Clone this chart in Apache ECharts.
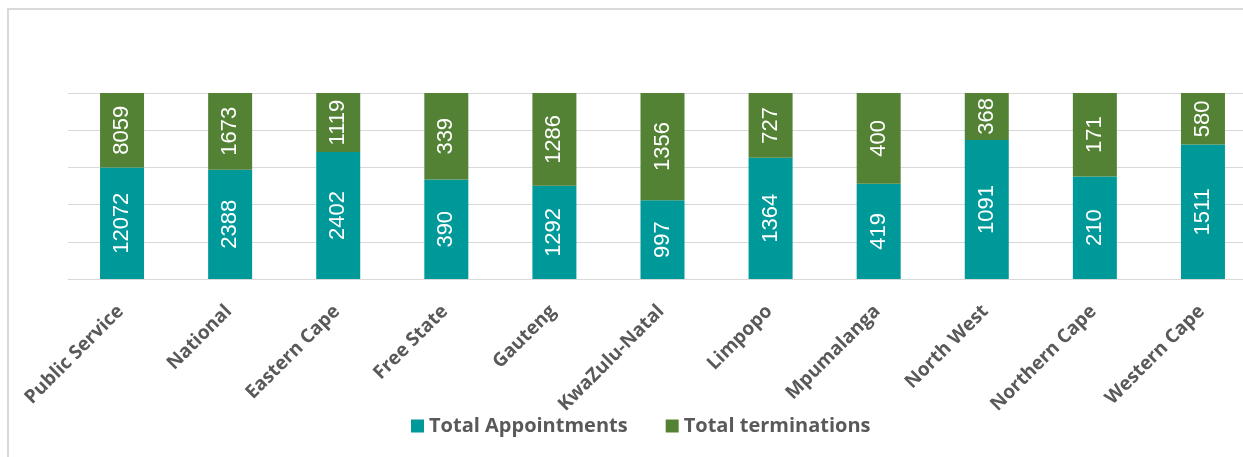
<!DOCTYPE html>
<html>
<head>
<meta charset="utf-8">
<script src="https://cdn.jsdelivr.net/npm/echarts@6/dist/echarts.min.js"></script>
<style>
    html, body { margin: 0; padding: 0; background: #fff; }
    #frame { position: absolute; left: 7px; top: 8px; width: 1300px; height: 500px; border-top: 2px solid #d9d9d9; border-left: 2px solid #d9d9d9; }
    #chart { position: absolute; left: 0; top: 0; width: 1243px; height: 457px; }
</style>
</head>
<body>
<div id="frame"></div>
<div id="chart"></div>
<script>
// 各省数据
const categories = ['Public Service', 'National', 'Eastern Cape', 'Free State', 'Gauteng', 'KwaZulu-Natal', 'Limpopo', 'Mpumalanga', 'North West', 'Northern Cape', 'Western Cape'];
const appointments = [12072, 2388, 2402, 390, 1292, 997, 1364, 419, 1091, 210, 1511];
const terminations = [8059, 1673, 1119, 339, 1286, 1356, 727, 400, 368, 171, 580];
const yTicks = [0, 20, 40, 60, 80, 100];

// 100% 堆叠：按每列合计换算成百分比
const share = (arr) => arr.map((v, i) => ({ value: v / (appointments[i] + terminations[i]) * 100, raw: v }));

const labelStyle = {
    show: true,
    position: 'inside',
    rotate: 90,
    color: '#fff',
    fontFamily: 'Liberation Sans',
    fontSize: 22,
    formatter: (p) => p.data.raw
};

const chart = echarts.init(document.getElementById('chart'));
chart.setOption({
    animation: false,
    grid: { left: 68, top: 93, width: 1189, height: 186, outerBoundsMode: 'none', containLabel: false },
    legend: {
        data: ['Total Appointments', 'Total terminations'],
        left: 406,
        top: 411,
        itemWidth: 13,
        itemHeight: 13,
        itemGap: 38,
        icon: 'rect',
        textStyle: { color: '#595959', fontFamily: 'Open Sans', fontSize: 20, fontWeight: 'bold' }
    },
    xAxis: {
        type: 'category',
        data: categories,
        axisLine: { show: true, lineStyle: { color: '#d9d9d9', width: 1 } },
        axisTick: { show: false },
        axisLabel: {
            rotate: 45,
            margin: 28,
            padding: [0, 2, 0, 0],
            color: '#595959',
            fontFamily: 'Open Sans',
            fontSize: 19,
            fontWeight: 'bold',
            interval: 0
        }
    },
    yAxis: {
        type: 'value',
        min: yTicks[0],
        max: yTicks[yTicks.length - 1],
        interval: 20,
        axisLabel: { show: false },
        axisLine: { show: false },
        axisTick: { show: false },
        splitLine: { lineStyle: { color: '#d9d9d9', width: 1 } }
    },
    series: [{
        name: 'Total Appointments',
        type: 'bar',
        stack: 'total',
        barWidth: 44,
        itemStyle: { color: '#009999' },
        label: labelStyle,
        data: share(appointments)
    }, {
        name: 'Total terminations',
        type: 'bar',
        stack: 'total',
        barWidth: 44,
        itemStyle: { color: '#548235' },
        label: labelStyle,
        data: share(terminations)
    }]
});
</script>
</body>
</html>
